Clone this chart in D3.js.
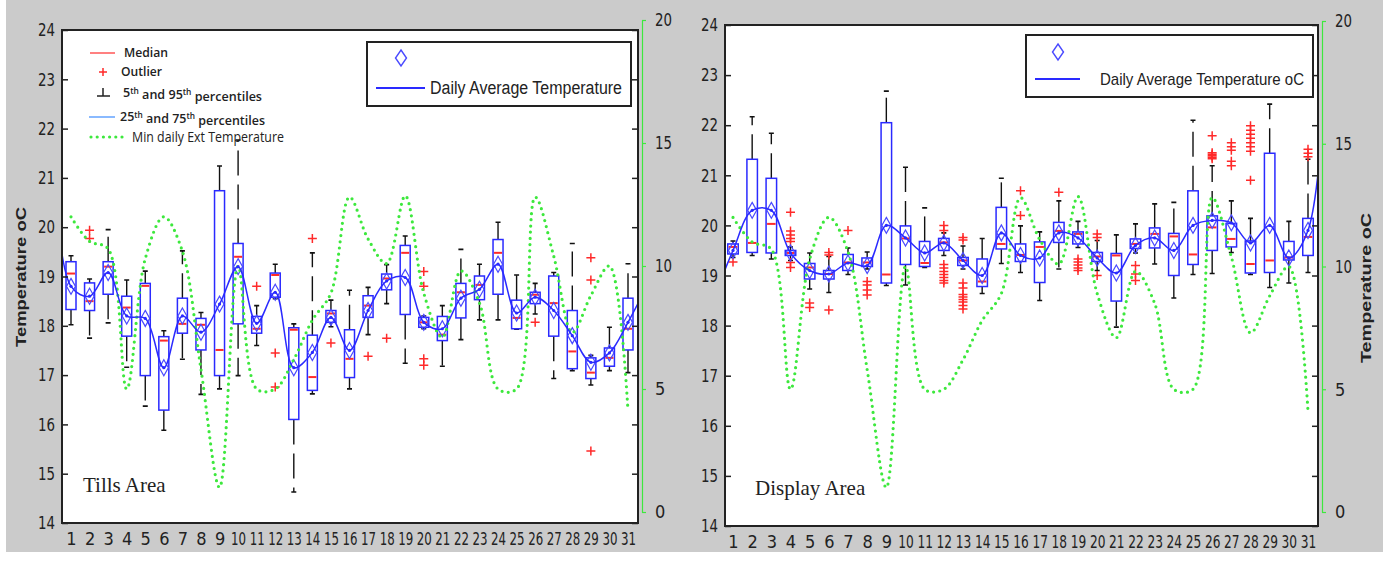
<!DOCTYPE html>
<html>
<head>
<meta charset="utf-8">
<script src="https://cdn.jsdelivr.net/npm/d3@7"></script>
<style>
  body { margin: 0; background: #fff; }
  svg { display: block; }
  text { font-family: "Liberation Sans", Arial, sans-serif; fill: #222; }
  text.narrow { font-family: "Liberation Sans Narrow", "Arial Narrow", "DejaVu Sans Condensed", sans-serif; }
  text.serif { font-family: "Liberation Serif", "Times New Roman", serif; }
  text.key { font-family: "Open Sans", sans-serif; font-weight: 600; }
</style>
</head>
<body>
<svg id="chart" width="1383" height="561"></svg>
<script>
// ---- data ----
const days = [1,2,3,4,5,6,7,8,9,10,11,12,13,14,15,16,17,18,19,20,21,22,23,24,25,26,27,28,29,30,31];
const tempTicks = [14,15,16,17,18,19,20,21,22,23,24];
const extTicks = [0,5,10,15,20];

// minimum daily external temperature (right axis), same days for both areas
const minExtTemp = [12.0,11.0,10.7,5.0,10.3,12.0,10.6,5.8,1.0,10.0,5.0,5.0,6.2,7.8,8.9,12.8,
  11.1,10.1,12.85,8.9,7.1,9.8,8.5,5.0,5.0,12.8,10.4,7.3,8.8,10.0,4.1];

// Tills area
const tillsQ1 = [18.33,18.31,18.64,17.79,16.99,16.29,17.85,17.51,16.99,18.04,17.85,18.58,16.10,16.69,18.07,16.95,
  18.17,18.73,18.23,17.97,17.70,18.16,18.53,18.64,17.94,18.45,17.79,17.13,16.93,17.18,17.51];
const tillsQ3 = [19.30,18.87,19.30,18.60,18.86,17.78,18.56,18.15,20.74,19.67,18.19,19.07,17.96,17.81,18.31,17.92,
  18.61,19.05,19.63,18.17,18.19,18.86,19.01,19.75,18.52,18.68,19.01,18.31,17.35,17.55,18.56];
const tillsMedian = [19.06,18.50,19.20,18.37,18.81,17.70,18.04,18.02,17.51,19.40,17.94,19.03,17.92,16.96,18.25,17.33,
  18.41,18.96,19.48,18.07,17.82,18.68,18.83,19.48,18.16,18.63,18.46,17.48,17.05,17.35,17.94];
const tillsLow = [18.02,17.75,18.06,17.16,16.37,15.88,17.32,16.61,16.72,16.99,17.60,18.55,14.63,16.62,17.98,16.72,
  17.82,18.45,17.24,17.94,17.18,17.72,18.12,18.12,17.93,18.24,16.93,17.09,16.80,17.09,17.05];
const tillsHigh = [19.42,18.95,19.95,18.93,19.11,17.90,19.52,18.27,21.24,21.77,18.41,19.25,18.04,19.48,18.52,18.72,
  18.78,19.24,19.82,18.20,18.41,19.55,19.25,20.10,19.03,18.86,19.08,19.67,17.40,17.97,19.26];
const tillsMean = [18.8,18.6,19.08,18.2,18.15,17.15,18.2,17.87,18.44,19.2,18.05,18.68,17.15,17.46,18.17,17.5,
  18.31,18.91,18.98,18.07,17.94,18.56,18.74,19.25,18.26,18.58,18.31,17.8,17.26,17.45,18.07];
const tillsMeanEdges = [21.5, 18.8]; // line values just outside day 1 and day 31
const tillsOutliers = [[],[19.94,19.77],[],[],[],[],[],[],[],[],[18.80],[17.45,16.76],[],[19.77],[17.65],[],
  [17.38],[17.75],[],[19.10,18.80,17.33,17.20],[],[],[],[],[],[18.07],[],[],[19.38,18.93,15.46],[],[]];

// Display area
const displayQ1 = [19.43,19.46,19.45,19.40,18.93,18.93,19.10,19.18,18.85,19.22,19.18,19.50,19.20,18.78,19.53,19.28,
  18.86,19.66,19.63,19.28,18.49,19.54,19.55,19.00,19.22,19.50,19.57,19.05,19.06,19.31,19.40];
const displayQ3 = [19.63,21.32,20.94,19.50,19.24,19.10,19.42,19.35,22.05,19.99,19.68,19.74,19.36,19.33,20.36,19.63,
  19.67,20.06,19.87,19.46,19.44,19.73,19.95,19.84,20.69,20.19,20.04,19.69,21.44,19.68,20.14];
const displayMedian = [19.57,19.65,20.03,19.45,19.16,19.03,19.26,19.26,19.02,19.74,19.25,19.66,19.30,18.88,19.63,19.41,
  19.57,19.89,19.83,19.38,19.40,19.63,19.83,19.78,19.42,19.96,19.73,19.23,19.30,19.36,19.77];
const displayLow = [19.36,19.40,19.33,19.30,18.73,18.66,19.02,19.13,18.80,18.81,19.16,19.40,19.13,18.64,19.24,19.06,
  18.50,19.13,19.56,19.10,17.97,19.45,19.23,18.55,19.02,19.04,19.46,19.02,18.76,18.85,19.06];
const displayHigh = [19.69,22.17,21.84,19.57,19.45,19.38,19.55,19.47,22.68,21.16,20.35,19.85,19.59,19.74,20.94,19.99,
  19.87,20.49,20.08,19.70,19.81,20.03,20.43,20.46,22.10,21.19,20.49,20.14,22.42,20.08,21.32];
const displayMean = [19.5,20.3,20.3,19.45,19.1,19.03,19.25,19.2,20.0,19.75,19.45,19.65,19.3,19.0,19.85,19.4,
  19.35,19.85,19.75,19.35,19.05,19.6,19.75,19.5,20.0,20.1,20.05,19.65,20.0,19.35,19.9];
const displayMeanEdges = [18.55, 23.4];
const displayOutliers = [[19.27],[],[],[20.26,19.89,19.81,19.74,19.68,19.26,19.16],[18.45,18.36],[19.46,19.41,18.31],
  [19.9],[18.88,18.81,18.71,18.61],[],[],[],[20.0,19.9,19.22,19.15,19.08,19.02,18.96,18.9,18.85],
  [19.76,19.71,18.85,18.75,18.62,18.57,18.52,18.47,18.4,18.33],[],[],[20.69,20.2],[],[20.66],
  [19.33,19.27,19.21,19.15,19.1],[19.83,19.76,19.0],[],[19.2,19.03,18.9],[],[],[],
  [21.79,21.45,21.42,21.39,21.36,21.33],[21.65,21.57,21.5,21.28,21.19],
  [21.99,21.9,21.82,21.74,21.65,21.57,21.48,20.9],[],[],[21.52,21.44,21.37]];

// ---- drawing ----
const blue = "#2a2aff", red = "#ff2a2a", green = "#3de83d";
const svg = d3.select("#chart");

svg.append("rect").attr("x", 6).attr("y", 0).attr("width", 1377).attr("height", 552).attr("fill", "#cbcbcb");

function drawPanel(p) {
  const g = svg.append("g");
  const x = d3.scaleLinear().domain([1, 31]).range(p.xRange);
  const y = d3.scaleLinear().domain([14, 24]).range([p.bottom, p.top]);
  const yExt = d3.scaleLinear().domain([0, 20]).range(p.extRange);

  g.append("rect")
    .attr("x", p.left).attr("y", p.top)
    .attr("width", p.right - p.left).attr("height", p.bottom - p.top)
    .attr("fill", "#fff");

  svg.append("clipPath").attr("id", "clip-" + p.id)
    .append("rect")
    .attr("x", p.left).attr("y", p.top)
    .attr("width", p.right - p.left).attr("height", p.bottom - p.top);

  const boxes = days.map((d, i) => ({
    day: d, q1: p.q1[i], q3: p.q3[i], med: p.median[i],
    lo: p.low[i], hi: p.high[i], mean: p.mean[i], out: p.outliers[i]
  }));
  const hw = p.boxWidth / 2;

  const bx = g.append("g").selectAll("g").data(boxes).join("g");

  // whiskers (dashed, black)
  bx.append("line")
    .attr("x1", d => x(d.day)).attr("x2", d => x(d.day))
    .attr("y1", d => y(d.q3)).attr("y2", d => y(d.hi))
    .attr("stroke", "#111").attr("stroke-width", 1.4).attr("stroke-dasharray", "25,9");
  bx.append("line")
    .attr("x1", d => x(d.day)).attr("x2", d => x(d.day))
    .attr("y1", d => y(d.q1)).attr("y2", d => y(d.lo))
    .attr("stroke", "#111").attr("stroke-width", 1.4).attr("stroke-dasharray", "25,9");
  bx.append("path")
    .attr("d", d => `M${x(d.day) - 2.5},${y(d.hi)}h5M${x(d.day) - 2.5},${y(d.lo)}h5`)
    .attr("stroke", "#111").attr("stroke-width", 1.6);

  // boxes
  bx.append("rect")
    .attr("x", d => x(d.day) - hw).attr("width", p.boxWidth)
    .attr("y", d => y(d.q3)).attr("height", d => y(d.q1) - y(d.q3))
    .attr("fill", "none").attr("stroke", blue).attr("stroke-width", 1.5);

  // medians
  bx.append("line")
    .attr("x1", d => x(d.day) - hw + 1).attr("x2", d => x(d.day) + hw - 1)
    .attr("y1", d => y(d.med)).attr("y2", d => y(d.med))
    .attr("stroke", red).attr("stroke-width", 2);

  // outliers
  bx.selectAll("path.out").data(d => d.out.map(v => ({ day: d.day, v }))).join("path")
    .attr("class", "out")
    .attr("d", o => `M${x(o.day) - 4.5},${y(o.v)}h9M${x(o.day)},${y(o.v) - 4.5}v9`)
    .attr("stroke", red).attr("stroke-width", 1.5);

  // mean diamonds
  bx.append("path")
    .attr("d", d => {
      const cx = x(d.day), cy = y(d.mean);
      return `M${cx},${cy - 8}L${cx + 4.5},${cy}L${cx},${cy + 8}L${cx - 4.5},${cy}Z`;
    })
    .attr("fill", "none").attr("stroke", "#4a4aff").attr("stroke-width", 1.2);

  // min external temperature (green dotted, right axis)
  const extLine = d3.line()
    .x((v, i) => x(days[i])).y(v => yExt(v))
    .curve(d3.curveCatmullRom.alpha(0.5));
  g.append("path")
    .attr("d", extLine(minExtTemp))
    .attr("fill", "none").attr("stroke", green).attr("stroke-width", 3.2)
    .attr("stroke-linecap", "round").attr("stroke-dasharray", "0,6.2");

  // daily average line
  const meanPts = [{ day: 0, v: p.meanEdges[0] }]
    .concat(days.map((d, i) => ({ day: d, v: p.mean[i] })))
    .concat([{ day: 32, v: p.meanEdges[1] }]);
  const meanLine = d3.line().x(d => x(d.day)).y(d => y(d.v)).curve(d3.curveCatmullRom.alpha(0.5));
  g.append("path")
    .attr("clip-path", `url(#clip-${p.id})`)
    .attr("d", meanLine(meanPts))
    .attr("fill", "none").attr("stroke", blue).attr("stroke-width", 1.5);
  g.append("g").selectAll("circle").data(meanPts.slice(1, 32)).join("circle")
    .attr("cx", d => x(d.day)).attr("cy", d => y(d.v)).attr("r", 1.6).attr("fill", blue);

  // frame
  g.append("rect")
    .attr("x", p.left).attr("y", p.top)
    .attr("width", p.right - p.left).attr("height", p.bottom - p.top)
    .attr("fill", "none").attr("stroke", "#222").attr("stroke-width", 2);

  // left temperature axis
  const ay = g.append("g").attr("transform", `translate(${p.left},0)`)
    .call(d3.axisLeft(y).tickValues(tempTicks).tickSize(-6).tickPadding(7));
  ay.select(".domain").remove();
  ay.selectAll("line").attr("stroke", "#222").attr("stroke-width", 1.5);
  ay.selectAll("text").attr("class", "narrow").attr("font-size", 18).attr("fill", "#222")
    .attr("textLength", 17).attr("lengthAdjust", "spacingAndGlyphs");

  const ayr = g.append("g").attr("transform", `translate(${p.right},0)`)
    .call(d3.axisRight(y).tickValues(tempTicks).tickSize(-6).tickFormat(""));
  ayr.select(".domain").remove();
  ayr.selectAll("line").attr("stroke", "#222").attr("stroke-width", 1.5);

  // day axis
  const ax = g.append("g").attr("transform", `translate(0,${p.bottom})`)
    .call(d3.axisBottom(x).tickValues(days).tickSize(0).tickPadding(9).tickFormat(d3.format("d")));
  ax.select(".domain").remove();
  ax.selectAll("text").attr("class", "narrow").attr("font-size", 18).attr("fill", "#222")
    .each(function (d) {
      if (d >= 10) d3.select(this).attr("textLength", p.labelWidth).attr("lengthAdjust", "spacingAndGlyphs");
    });

  // external temperature axis (green)
  const ae = g.append("g").attr("transform", `translate(${p.extX},0)`)
    .call(d3.axisRight(yExt).tickValues(extTicks).tickSize(4).tickSizeOuter(0).tickPadding(9));
  ae.select(".domain").attr("stroke", green).attr("stroke-width", 1.2);
  ae.selectAll("line").attr("stroke", green).attr("stroke-width", 1.2);
  ae.selectAll("text").attr("class", "narrow").attr("font-size", 18).attr("fill", "#222")
    .each(function (d) {
      if (d >= 10) d3.select(this).attr("textLength", 17).attr("lengthAdjust", "spacingAndGlyphs");
    });

  // area name
  g.append("text").attr("class", "serif").attr("x", p.nameX).attr("y", p.nameY)
    .attr("font-size", 21).attr("fill", "#111").text(p.name);

  // axis titles
  p.titles.forEach(t => {
    g.append("text")
      .attr("transform", `translate(${t.x},${t.y}) rotate(-90)`)
      .attr("text-anchor", "middle").attr("dominant-baseline", "central")
      .attr("font-size", 15).attr("font-weight", "bold").attr("fill", "#333")
      .attr("textLength", t.len).attr("lengthAdjust", "spacingAndGlyphs")
      .text("Temperature oC");
  });

  // daily average legend
  const L = p.legend;
  g.append("rect").attr("x", L.x).attr("y", L.y).attr("width", L.w).attr("height", L.h)
    .attr("fill", "#fff").attr("stroke", "#222").attr("stroke-width", 2);
  g.append("path")
    .attr("d", `M${L.dx},${L.dy - 8}L${L.dx + 5.5},${L.dy}L${L.dx},${L.dy + 8}L${L.dx - 5.5},${L.dy}Z`)
    .attr("fill", "none").attr("stroke", "#4a4aff").attr("stroke-width", 1.4);
  g.append("line").attr("x1", L.lx0).attr("x2", L.lx1).attr("y1", L.ly).attr("y2", L.ly)
    .attr("stroke", blue).attr("stroke-width", 2);
  g.append("text").attr("x", L.tx).attr("y", L.ly).attr("dy", "0.35em")
    .attr("font-size", L.fs).attr("fill", "#222")
    .attr("textLength", L.tlen).attr("lengthAdjust", "spacingAndGlyphs")
    .text(L.text);
}

drawPanel({
  id: "tills", name: "Tills Area", nameX: 83, nameY: 492,
  left: 62, right: 638, top: 30, bottom: 523, xRange: [71, 628],
  extX: 642, extRange: [512, 20], boxWidth: 10, labelWidth: 15,
  q1: tillsQ1, q3: tillsQ3, median: tillsMedian, low: tillsLow, high: tillsHigh,
  mean: tillsMean, meanEdges: tillsMeanEdges, outliers: tillsOutliers,
  titles: [{ x: 20, y: 277, len: 140 }],
  legend: { x: 367, y: 42, w: 264, h: 64, dx: 401, dy: 58, lx0: 376, lx1: 425, ly: 88,
    tx: 430, tlen: 192, fs: 18, text: "Daily Average Temperature" }
});

drawPanel({
  id: "display", name: "Display Area", nameX: 755, nameY: 495,
  left: 725, right: 1318, top: 25, bottom: 526, xRange: [733, 1308],
  extX: 1322, extRange: [512, 21], boxWidth: 10.5, labelWidth: 15.5,
  q1: displayQ1, q3: displayQ3, median: displayMedian, low: displayLow, high: displayHigh,
  mean: displayMean, meanEdges: displayMeanEdges, outliers: displayOutliers,
  titles: [{ x: 1365, y: 288, len: 150 }],
  legend: { x: 1026, y: 35, w: 287, h: 62, dx: 1058, dy: 52, lx0: 1035, lx1: 1080, ly: 79,
    tx: 1100, tlen: 204, fs: 17, text: "Daily Average Temperature oC" }
});

// box plot key in the Tills panel
const key = svg.append("g");
key.append("line").attr("x1", 90).attr("x2", 115).attr("y1", 53).attr("y2", 53).attr("stroke", red).attr("stroke-width", 1.2);
key.append("text").attr("class", "key").attr("x", 124).attr("y", 53).attr("dy", "0.35em").attr("font-size", 12).attr("fill", "#333")
  .attr("textLength", 44).attr("lengthAdjust", "spacingAndGlyphs").text("Median");
key.append("path").attr("d", "M99,72h8M103,68v8").attr("stroke", red).attr("stroke-width", 1.5);
key.append("text").attr("class", "key").attr("x", 121).attr("y", 72).attr("dy", "0.35em").attr("font-size", 12).attr("fill", "#333")
  .attr("textLength", 41).attr("lengthAdjust", "spacingAndGlyphs").text("Outlier");
key.append("path").attr("d", "M103,88v8M97,96h13").attr("stroke", "#222").attr("stroke-width", 1.5);

function supText(xp, yp, parts, len) {
  const t = key.append("text").attr("class", "key").attr("x", xp).attr("y", yp).attr("dy", "0.35em")
    .attr("font-size", 12).attr("fill", "#333")
    .attr("textLength", len).attr("lengthAdjust", "spacingAndGlyphs");
  parts.forEach(s => {
    if (s === "th") t.append("tspan").attr("dy", "-0.45em").attr("font-size", 8).text(s);
    else if (s.startsWith(" ")) t.append("tspan").attr("dy", "0.45em").text(s);
    else t.append("tspan").text(s);
  });
}
supText(123, 93, ["5", "th", " and 95", "th", " percentiles"], 139);
key.append("line").attr("x1", 89).attr("x2", 115).attr("y1", 117).attr("y2", 117).attr("stroke", "#3b8cff").attr("stroke-width", 1.2);
supText(120, 117, ["25", "th", " and 75", "th", " percentiles"], 145);
key.append("line").attr("x1", 91).attr("x2", 126).attr("y1", 137).attr("y2", 137)
  .attr("stroke", green).attr("stroke-width", 3.2).attr("stroke-linecap", "round").attr("stroke-dasharray", "0,6.2");
key.append("text").attr("class", "key").attr("x", 132).attr("y", 137).attr("dy", "0.35em").attr("font-size", 14)
  .style("font-weight", 400).attr("fill", "#222")
  .attr("textLength", 152).attr("lengthAdjust", "spacingAndGlyphs").text("Min daily Ext Temperature");
</script>
</body>
</html>
